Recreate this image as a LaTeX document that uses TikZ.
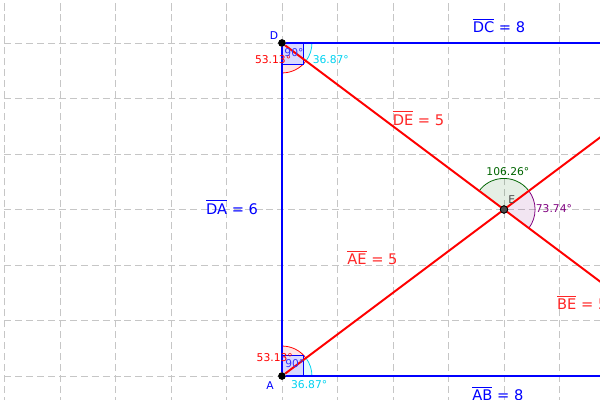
\documentclass[tikz,border=0pt]{standalone}
\usepackage{fontspec}
\setmainfont{DejaVu Sans}
\usepackage{tikz}
\usetikzlibrary{calc}
\usetikzlibrary{positioning}
\definecolor{ggblue}{RGB}{0,0,255}
\definecolor{ggred}{RGB}{255,0,0}
\definecolor{ggcyan}{RGB}{0,210,240}
\definecolor{gggreen}{RGB}{0,100,0}
\definecolor{ggviolet}{RGB}{127,0,127}
\tikzstyle{gridline} = [draw=gray!45, line width=0.5pt, dash pattern=on 3.6pt off 2pt]
\tikzstyle{side} = [draw=ggblue, line width=1.5pt]
\tikzstyle{diag} = [draw=ggred, line width=1pt]
\tikzstyle{pt} = [circle, fill=black, inner sep=0, minimum size=3.8pt]
\tikzstyle{len} = [inner sep=0, font=\fontsize{7.5}{9}\selectfont]
\tikzstyle{ang} = [inner sep=0, font=\fontsize{5.5}{6.5}\selectfont]
\newcommand{\segbar}[1]{$\overline{\mbox{#1}}$}

\begin{document}
\begin{tikzpicture}
\useasboundingbox (-5.081,-0.432) rectangle (5.730,6.775);
\draw [gridline] (-5.2,-0.5) grid (5.8,6.8);
% vertices
\node [pt] (A) at (0, 0) {};
\node [pt] (D) at (0, 6) {};
\coordinate (B) at (8, 0);
\coordinate (C) at (8, 6);
\node [circle, fill=black!70, draw=black, inner sep=0, minimum size=3.8pt] (E) at (4, 3) {};
% angle sectors
\fill [ggred, fill opacity=0.1] (D.center) -- ++(-90:0.54) arc [start angle=-90, end angle=-36.87, radius=0.54] -- cycle;
\draw [ggred, thin] ($(D.center)+(-90:0.54)$) arc [start angle=-90, end angle=-36.87, radius=0.54];
\fill [ggcyan, fill opacity=0.1] (D.center) -- ++(-36.87:0.54) arc [start angle=-36.87, end angle=0, radius=0.54] -- cycle;
\draw [ggcyan, thin] ($(D.center)+(-36.87:0.54)$) arc [start angle=-36.87, end angle=0, radius=0.54];
\fill [ggred, fill opacity=0.1] (A.center) -- ++(36.87:0.54) arc [start angle=36.87, end angle=90, radius=0.54] -- cycle;
\draw [ggred, thin] ($(A.center)+(36.87:0.54)$) arc [start angle=36.87, end angle=90, radius=0.54];
\fill [ggcyan, fill opacity=0.1] (A.center) -- ++(0:0.54) arc [start angle=0, end angle=36.87, radius=0.54] -- cycle;
\draw [ggcyan, thin] ($(A.center)+(0:0.54)$) arc [start angle=0, end angle=36.87, radius=0.54];
\fill [gggreen, fill opacity=0.1] (E.center) -- ++(36.87:0.56) arc [start angle=36.87, end angle=143.13, radius=0.56] -- cycle;
\draw [gggreen, thin] ($(E.center)+(36.87:0.56)$) arc [start angle=36.87, end angle=143.13, radius=0.56];
\fill [ggviolet, fill opacity=0.1] (E.center) -- ++(-36.87:0.56) arc [start angle=-36.87, end angle=36.87, radius=0.56] -- cycle;
\draw [ggviolet, thin] ($(E.center)+(-36.87:0.56)$) arc [start angle=-36.87, end angle=36.87, radius=0.56];
% right angles
\filldraw [draw=ggblue, fill=ggblue!15, thin] (D.center) rectangle ++(0.38,-0.38);
\filldraw [draw=ggblue, fill=ggblue!15, thin] (A.center) rectangle ++(0.38,0.38);
% sides and diagonals
\draw [side] (D) to (C);
\draw [side] (A) to (B);
\draw [side] (D) to (A);
\draw [diag] (D) to (B);
\draw [diag] (A) to (C);
\node [pt] at (A) {};
\node [pt] at (D) {};
\node [circle, fill=black!70, draw=black, inner sep=0, minimum size=3.8pt] at (E) {};
% point names
\node [ang, text=ggblue] (Dname) at (-0.144, 6.13) {D};
\node [ang, text=ggblue] (Aname) at (-0.216, -0.18) {A};
\node [ang, text=black!70] (Ename) at (4.14, 3.17) {E};
% lengths
\node [len, text=ggblue] (DClab) at (3.91, 6.32) {\segbar{DC} = 8};
\node [len, text=ggblue] (DAlab) at (-0.90, 3.045) {\segbar{DA} = 6};
\node [len, text=ggblue] (ABlab) at (3.89, -0.32) {\segbar{AB} = 8};
\node [len, text=ggred!85] (DElab) at (2.46, 4.65) {\segbar{DE} = 5};
\node [len, text=ggred!85] (AElab) at (1.63, 2.14) {\segbar{AE} = 5};
\node [len, text=ggred!85] (BElab) at (5.41, 1.33) {\segbar{BE} = 5};
% angles
\node [ang, text=ggred] (angDr) at (-0.16, 5.71) {53.13°};
\node [ang, text=ggblue!80] (angDq) at (0.216, 5.82) {90°};
\node [ang, text=ggcyan] (angDc) at (0.88, 5.71) {36.87°};
\node [ang, text=ggred] (angAr) at (-0.13, 0.34) {53.13°};
\node [ang, text=ggblue!80] (angAq) at (0.23, 0.23) {90°};
\node [ang, text=ggcyan] (angAc) at (0.49, -0.16) {36.87°};
\node [ang, text=gggreen] (angEg) at (4.07, 3.68) {106.26°};
\node [ang, text=ggviolet] (angEv) at (4.90, 3.02) {73.74°};
\end{tikzpicture}
\end{document}
